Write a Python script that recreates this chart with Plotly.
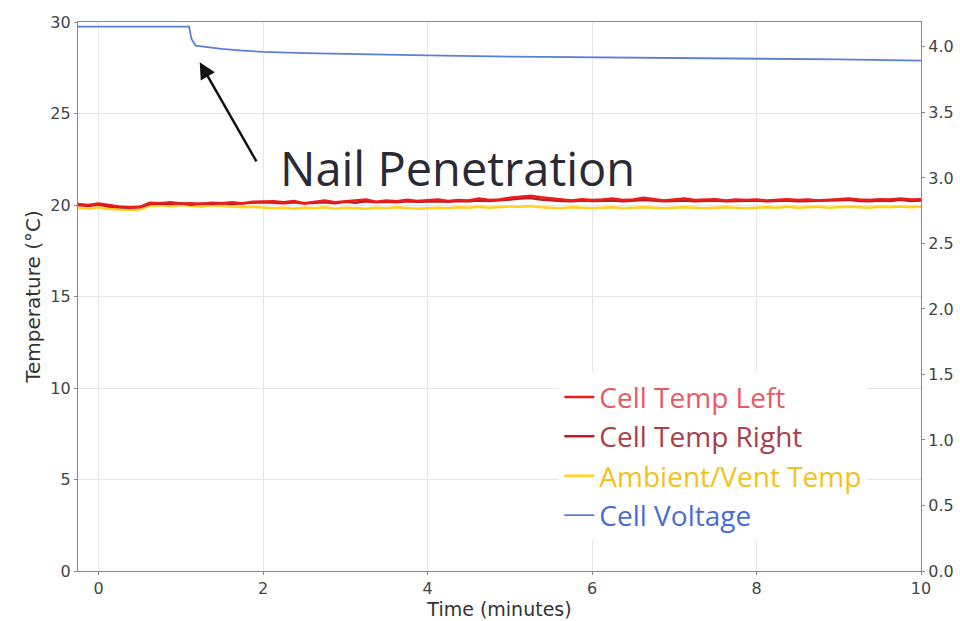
import plotly.graph_objects as go

# sampling grid (minutes)
time_min = [-0.25 + 0.125 * i for i in range(83)]

temp_left = [
    20.05, 20.0, 20.08, 19.98, 19.92, 19.88, 19.9,
    20.12, 20.1, 20.15, 20.08, 20.1, 20.05, 20.12, 20.1, 20.15, 20.08, 20.18, 20.2,
    20.2, 20.15, 20.22, 20.1, 20.18, 20.25, 20.15, 20.2, 20.22, 20.3, 20.18, 20.25, 20.2, 20.28, 20.22, 20.25,
    20.3, 20.22, 20.28, 20.25, 20.35, 20.28, 20.3, 20.4, 20.45, 20.5, 20.42, 20.35, 20.3, 20.25, 20.32, 20.28,
    20.3, 20.35, 20.28, 20.3, 20.4, 20.32, 20.25, 20.3, 20.35, 20.28, 20.3, 20.32, 20.25, 20.3, 20.28, 20.3,
    20.25, 20.3, 20.32, 20.28, 20.3, 20.25, 20.28, 20.3, 20.35, 20.3, 20.28, 20.32, 20.3, 20.35, 20.3, 20.32,
]
temp_right = [
    20.0, 19.95, 20.02, 19.92, 19.88, 19.85, 19.88,
    20.05, 20.08, 20.05, 20.1, 20.02, 20.08, 20.05, 20.1, 20.06, 20.1, 20.12, 20.15,
    20.12, 20.1, 20.15, 20.08, 20.12, 20.15, 20.1, 20.18, 20.12, 20.2, 20.15, 20.18, 20.15, 20.2, 20.18, 20.2,
    20.2, 20.18, 20.22, 20.2, 20.25, 20.22, 20.28, 20.3, 20.35, 20.38, 20.3, 20.25, 20.22, 20.2, 20.25, 20.22,
    20.22, 20.25, 20.2, 20.22, 20.28, 20.25, 20.2, 20.22, 20.25, 20.2, 20.22, 20.25, 20.2, 20.22, 20.2, 20.25,
    20.2, 20.22, 20.25, 20.2, 20.22, 20.2, 20.22, 20.25, 20.28, 20.22, 20.2, 20.25, 20.22, 20.28, 20.22, 20.25,
]
temp_ambient = [
    19.85, 19.8, 19.88, 19.78, 19.75, 19.72, 19.75,
    19.95, 19.98, 19.92, 20.0, 19.95, 19.9, 19.98, 19.95, 19.92, 19.88, 19.9, 19.85,
    19.82, 19.85, 19.8, 19.85, 19.82, 19.88, 19.8, 19.85, 19.82, 19.8, 19.85, 19.82, 19.88, 19.85, 19.8, 19.82,
    19.85, 19.82, 19.88, 19.85, 19.9, 19.85, 19.88, 19.92, 19.9, 19.95, 19.88, 19.85, 19.82, 19.88, 19.85, 19.82,
    19.85, 19.88, 19.82, 19.85, 19.88, 19.85, 19.82, 19.85, 19.88, 19.85, 19.82, 19.85, 19.88, 19.85, 19.82, 19.85,
    19.88, 19.85, 19.9, 19.85, 19.88, 19.9, 19.85, 19.88, 19.9, 19.88, 19.85, 19.9, 19.88, 19.92, 19.88, 19.9,
]

time_v = [-0.25, 1.1, 1.13, 1.18, 1.3, 1.5, 1.75, 2.0, 2.5, 3.0, 4.0, 5.0, 6.0, 7.0, 8.0, 9.0, 10.0]
voltage = [4.155, 4.155, 4.06, 4.01, 4.0, 3.985, 3.972, 3.962, 3.952, 3.945, 3.935, 3.925, 3.92, 3.915, 3.912, 3.905, 3.895]

x_ticks = [0, 2, 4, 6, 8, 10]
y_ticks = [0, 5, 10, 15, 20, 25, 30]
y2_ticks = [0.0, 0.5, 1.0, 1.5, 2.0, 2.5, 3.0, 3.5, 4.0]

fig = go.Figure()
fig.add_trace(go.Scatter(x=time_min, y=temp_ambient, mode="lines",
                         line=dict(color="#ffd21f", width=2.5), legendrank=3,
                         name="<span style='color:#f2c21c'>Ambient/Vent Temp</span>"))
fig.add_trace(go.Scatter(x=time_min, y=temp_right, mode="lines",
                         line=dict(color="#b81c24", width=2.5), legendrank=2,
                         name="<span style='color:#a8404a'>Cell Temp Right</span>"))
fig.add_trace(go.Scatter(x=time_min, y=temp_left, mode="lines",
                         line=dict(color="#ec1c1c", width=2.5), legendrank=1,
                         name="<span style='color:#e85a64'>Cell Temp Left</span>"))
fig.add_trace(go.Scatter(x=time_v, y=voltage, mode="lines", yaxis="y2",
                         line=dict(color="#5b7fd6", width=1.8), legendrank=4,
                         name="<span style='color:#4a6cd4'>Cell Voltage</span>"))

tickfont = dict(family="DejaVu Sans", size=16, color="#444")
axis_common = dict(showline=True, linecolor="#888", linewidth=1.2, ticks="outside",
                   ticklen=3, tickcolor="#888", tickfont=tickfont, zeroline=False,
                   automargin=False)

fig.update_layout(
    width=960, height=621,
    margin=dict(l=78, r=39, t=22, b=50),
    paper_bgcolor="white", plot_bgcolor="white",
    xaxis=dict(range=[-0.25, 10], tickvals=x_ticks, showgrid=True, gridcolor="#e6e6e6",
               mirror=True,
               title=dict(text="Time (minutes)", font=dict(family="DejaVu Sans", size=19, color="#333"),
                          standoff=2), **axis_common),
    yaxis=dict(range=[0, 30], tickvals=y_ticks, showgrid=True, gridcolor="#e6e6e6",
               title=dict(text="Temperature (°C)", font=dict(family="DejaVu Sans", size=20, color="#333"),
                          standoff=4), **axis_common),
    yaxis2=dict(range=[0, 4.19], tickvals=y2_ticks, tickformat=".1f", overlaying="y", side="right",
                showgrid=False, **axis_common),
    legend=dict(x=0.571, y=0.362, xanchor="left", yanchor="top", bgcolor="white",
                font=dict(family="Open Sans", size=28), itemwidth=30, tracegroupgap=0,
                traceorder="normal"),
    showlegend=True,
)

fig.add_annotation(x=1.23, y=27.8, ax=1.93, ay=22.3, xref="x", yref="y", axref="x", ayref="y",
                   showarrow=True, arrowhead=2, arrowsize=1.3, arrowwidth=2.5, arrowcolor="#111", text="")
fig.add_annotation(x=2.18, y=22.0, xref="x", yref="y", xanchor="left", yanchor="middle",
                   text="Nail Penetration", showarrow=False,
                   font=dict(family="Open Sans", size=47, color="#2a2a35"))

fig.write_html("out.html")
